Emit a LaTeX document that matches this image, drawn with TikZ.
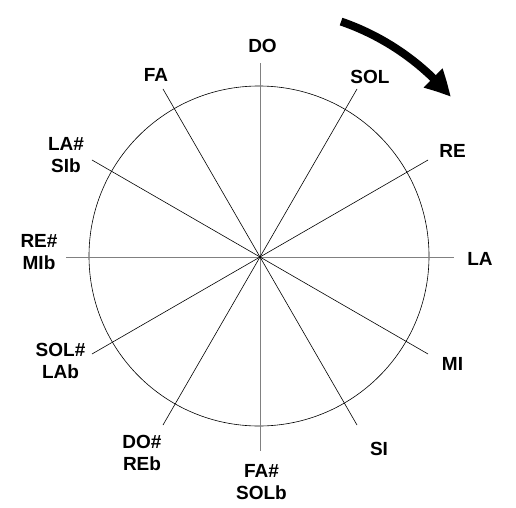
\documentclass[tikz,border=0pt]{standalone}
\usepackage{fontspec}
\setmainfont{Liberation Sans}
\usetikzlibrary{arrows.meta,bending,calc}
\tikzset{
  note/.style={font=\fontsize{19}{22.5}\selectfont\bfseries, inner sep=0pt, align=center},
  axis/.style={draw=gray, line width=1pt},
  spoke/.style={draw=black, line width=0.6pt},
  rim/.style={draw=black, line width=0.6pt},
  turn/.style={draw=black, line width=8pt, -{Triangle[length=26pt,width=25pt,bend]}}
}
\begin{document}
\begin{tikzpicture}[x=1pt,y=1pt]
\useasboundingbox (0,0) rectangle (516,507);
\coordinate (O) at (260,250);
\draw[rim] (259,251) circle[radius=170pt];
% end points of spokes
\foreach \a/\n in {90/pDO,60/pSOL,30/pRE,0/pLA,-30/pMI,-60/pSI,-90/pFAs,-120/pDOs,-150/pSOLs,180/pREs,150/pLAs,120/pFA}{
  \coordinate (\n) at ($(O)+(\a:194)$);
}
\draw[axis] (O) -- (pDO);
\draw[axis] (O) -- (pFAs);
\draw[axis] (O) -- (pLA);
\draw[axis] (O) -- (pREs);
\foreach \n in {pSOL,pRE,pMI,pSI,pDOs,pSOLs,pLAs,pFA}{
  \draw[spoke] (O) -- (\n);
}
% labels
\node[note] (DO) at (262.5,461.5) {DO};
\node[note] (SOL) at (370,430) {SOL};
\node[note] (RE) at (452.5,356) {RE};
\node[note] (LA) at (480,248.5) {LA};
\node[note] (MI) at (452.5,143.5) {MI};
\node[note] (SI) at (379,58) {SI};
\node[note] (FAs) at (261.5,25) {FA\#\\SOLb};
\node[note] (DOs) at (142,54) {DO\#\\REb};
\node[note] (SOLs) at (60.5,146) {SOL\#\\LAb};
\node[note] (REs) at (39,255) {RE\#\\MIb};
\node[note] (LAs) at (66,352) {LA\#\\SIb};
\node[note] (FA) at (156,432.5) {FA};
% rotation arrow
\draw[turn] ($(O)+(71:249)$) arc[start angle=71,end angle=40,radius=249pt];
\end{tikzpicture}
\end{document}
